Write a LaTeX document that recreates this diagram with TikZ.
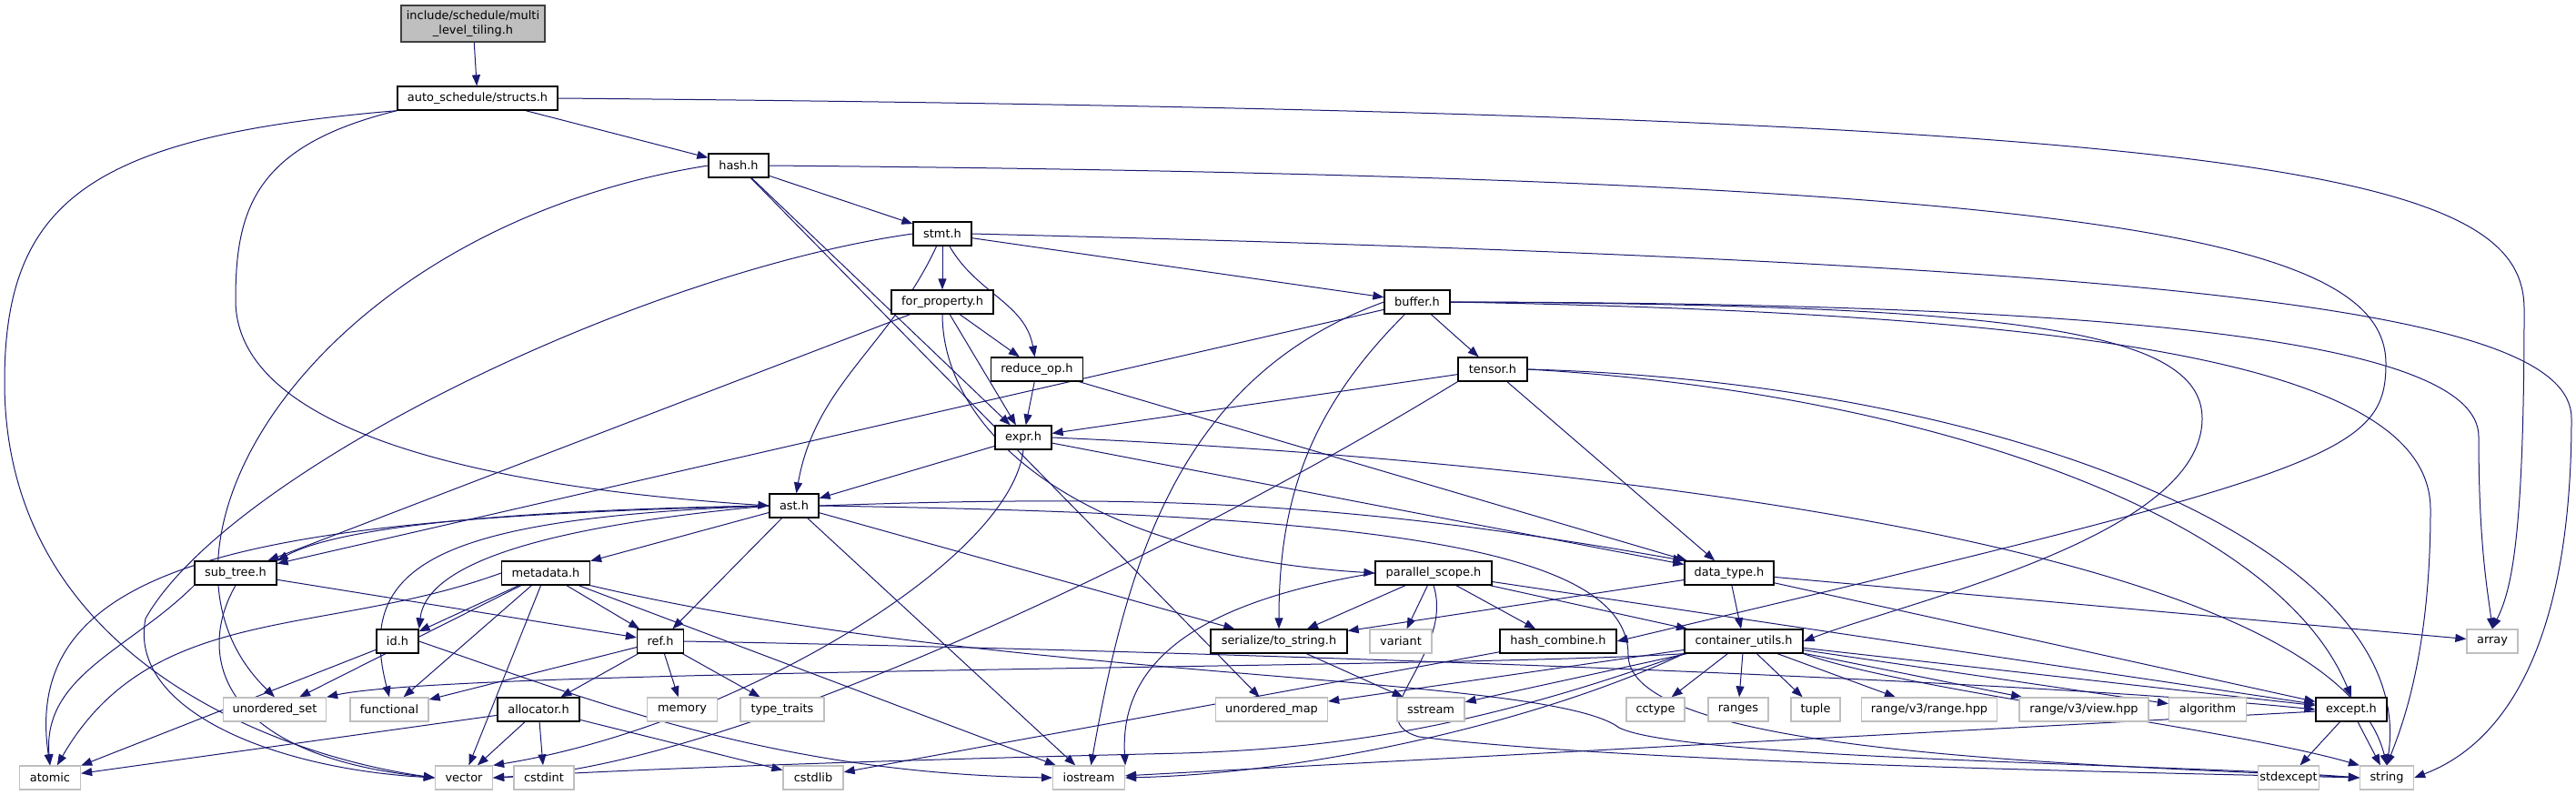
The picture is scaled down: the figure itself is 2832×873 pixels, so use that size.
\documentclass[tikz,border=0pt]{standalone}
\usepackage{fontspec}
\setmainfont{DejaVu Sans}
\usetikzlibrary{arrows.meta, backgrounds}
\definecolor{edgeblue}{RGB}{25, 25, 112}
\definecolor{sysgray}{RGB}{191, 191, 191}
\definecolor{boxdark}{RGB}{64, 64, 64}

\begin{document}
\begin{tikzpicture}[x=1pt, y=1pt,
                hdrbox/.style={draw=black, line width=1.3pt, fill=white,
                    minimum height=26pt, inner xsep=1pt, inner ysep=1pt,
                    font=\fontsize{12.9}{15}\selectfont},
                sysbox/.style={hdrbox, draw=sysgray},
                rootbox/.style={hdrbox, fill=sysgray, draw=boxdark,
                    minimum height=40pt, align=center,
                    font=\fontsize{12.9}{16}\selectfont},
                dep/.style={-{Triangle[length=12pt, width=9pt]}, line width=1pt, edgeblue}
            ]

                \useasboundingbox (0,0) rectangle (2832,-873);

                \node[rootbox, minimum width=158] (main) at (520,-26) {include/schedule/multi\\\_level\_tiling.h};
                \node[hdrbox, minimum width=176] (structs) at (525,-108) {auto\_schedule/structs.h};
                \node[hdrbox, minimum width=66] (hash) at (812,-182) {hash.h};
                \node[hdrbox, minimum width=64] (stmt) at (1036,-257) {stmt.h};
                \node[hdrbox, minimum width=112] (forprop) at (1036,-332) {for\_property.h};
                \node[hdrbox, minimum width=72] (buffer) at (1558,-332) {buffer.h};
                \node[hdrbox, minimum width=101] (reduceop) at (1140,-406) {reduce\_op.h};
                \node[hdrbox, minimum width=76] (tensor) at (1641,-406) {tensor.h};
                \node[hdrbox, minimum width=62] (expr) at (1125,-481) {expr.h};
                \node[hdrbox, minimum width=54] (ast) at (873,-556) {ast.h};

                \node[hdrbox, minimum width=90] (subtree) at (259,-630) {sub\_tree.h};
                \node[hdrbox, minimum width=97] (metadata) at (600,-630) {metadata.h};
                \node[hdrbox, minimum width=128] (parscope) at (1576,-630) {parallel\_scope.h};
                \node[hdrbox, minimum width=98] (datatype) at (1901,-630) {data\_type.h};

                \node[hdrbox, minimum width=46] (id) at (437,-705) {id.h};
                \node[hdrbox, minimum width=51] (ref) at (726,-705) {ref.h};
                \node[hdrbox, minimum width=150] (tostring) at (1406,-705) {serialize/to\_string.h};
                \node[sysbox, minimum width=68] (variant) at (1540,-705) {variant};
                \node[hdrbox, minimum width=128] (hashcomb) at (1713,-705) {hash\_combine.h};
                \node[hdrbox, minimum width=130] (contutils) at (1917,-705) {container\_utils.h};
                \node[sysbox, minimum width=56] (array) at (2740,-705) {array};

                \node[sysbox, minimum width=113] (unorderedset) at (302,-780) {unordered\_set};
                \node[sysbox, minimum width=86] (functional) at (428,-780) {functional};
                \node[hdrbox, minimum width=90] (allocator) at (592,-780) {allocator.h};
                \node[sysbox, minimum width=77] (memory) at (750,-780) {memory};
                \node[sysbox, minimum width=92] (typetraits) at (860,-780) {type\_traits};
                \node[sysbox, minimum width=123] (unorderedmap) at (1398,-780) {unordered\_map};
                \node[sysbox, minimum width=74] (sstream) at (1573,-780) {sstream};
                \node[sysbox, minimum width=64] (cctype) at (1820,-780) {cctype};
                \node[sysbox, minimum width=66] (ranges) at (1911,-780) {ranges};
                \node[sysbox, minimum width=54] (tuple) at (1996,-780) {tuple};
                \node[sysbox, minimum width=149] (rangehpp) at (2121,-780) {range/v3/range.hpp};
                \node[sysbox, minimum width=142] (viewhpp) at (2291,-780) {range/v3/view.hpp};
                \node[sysbox, minimum width=85] (algorithm) at (2427,-780) {algorithm};
                \node[hdrbox, minimum width=78] (except) at (2585,-780) {except.h};

                \node[sysbox, minimum width=67] (atomic) at (55,-855) {atomic};
                \node[sysbox, minimum width=63] (vector) at (510,-855) {vector};
                \node[sysbox, minimum width=66] (cstdint) at (598,-855) {cstdint};
                \node[sysbox, minimum width=66] (cstdlib) at (894,-855) {cstdlib};
                \node[sysbox, minimum width=79] (iostream) at (1197,-855) {iostream};
                \node[sysbox, minimum width=67] (stdexcept) at (2516,-855) {stdexcept};
                \node[sysbox, minimum width=59] (string) at (2624,-855) {string};

                \begin{pgfonlayer}{background}
                \draw[dep] (main) -- (structs);
                \draw[dep] (structs) -- (hash);
                \draw[dep] (structs.east) .. controls (2500,-125) and (2775,-190) .. (2775,-340) .. controls (2775,-600) and (2760,-650) .. (array.north);
                \draw[dep] (structs.south west) .. controls (100,-150) and (5,-220) .. (5,-420) .. controls (5,-720) and (300,-830) .. (vector.west);
                \draw[dep] (structs.south west) .. controls (280,-160) and (259,-230) .. (259,-330) .. controls (259,-450) and (450,-530) .. (ast.west);

                \draw[dep] (hash) -- (stmt);
                \draw[dep] (hash) -- (expr);
                \draw[dep] (hash) -- (unorderedmap);
                \draw[dep] (hash.west) .. controls (350,-250) and (130,-600) .. (unorderedset.north);
                \draw[dep] (hash.east) .. controls (2300,-195) and (2623,-260) .. (2623,-400) .. controls (2623,-500) and (2560,-520) .. (hashcomb.east);

                \draw[dep] (stmt) -- (forprop);
                \draw[dep] (stmt) -- (buffer);
                \draw[dep] (stmt) to[out=-60, in=100] (reduceop);
                \draw[dep] (stmt) to[out=245, in=80] (ast);
                \draw[dep] (stmt.west) .. controls (700,-300) and (250,-520) .. (160,-680) .. controls (140,-780) and (300,-845) .. (vector.west);
                \draw[dep] (stmt.east) .. controls (2400,-290) and (2827,-340) .. (2827,-460) .. controls (2827,-760) and (2720,-830) .. (string.east);

                \draw[dep] (forprop) -- (reduceop);
                \draw[dep] (forprop) -- (expr);
                \draw[dep] (forprop) -- (subtree);
                \draw[dep] (forprop.south) .. controls (1036,-470) and (1180,-610) .. (parscope.west);

                \draw[dep] (reduceop) -- (expr);
                \draw[dep] (reduceop) -- (datatype);

                \draw[dep] (buffer) -- (tensor);
                \draw[dep] (buffer) -- (subtree);
                \draw[dep] (buffer) to[out=225, in=90] (tostring);
                \draw[dep] (buffer.west) to[out=200, in=80] (iostream);
                \draw[dep] (buffer.east) .. controls (2300,-333) and (2725,-370) .. (2725,-480) .. controls (2725,-600) and (2735,-650) .. (array.north);
                \draw[dep] (buffer.east) .. controls (2200,-335) and (2421,-360) .. (2421,-460) .. controls (2421,-590) and (2100,-660) .. (contutils.east);
                \draw[dep] (buffer.east) .. controls (2300,-345) and (2672,-400) .. (2672,-560) .. controls (2672,-720) and (2640,-800) .. (string.north);

                \draw[dep] (tensor) -- (expr);
                \draw[dep] (tensor) -- (datatype);
                \draw[dep] (tensor.south west) .. controls (1300,-605) and (800,-845) .. (vector.east);
                \draw[dep] (tensor.east) .. controls (2100,-430) and (2500,-560) .. (except.north);
                \draw[dep] (tensor.east) .. controls (2200,-420) and (2660,-600) .. (string.north);

                \draw[dep] (expr) -- (ast);
                \draw[dep] (expr) -- (datatype);
                \draw[dep] (expr.south) .. controls (1110,-620) and (800,-800) .. (vector.north east);
                \draw[dep] (expr.east) .. controls (1600,-500) and (2560,-580) .. (string.north);

                \draw[dep] (ast) -- (metadata);
                \draw[dep] (ast) -- (ref);
                \draw[dep] (ast) -- (iostream);
                \draw[dep] (ast) -- (tostring);
                \draw[dep] (ast.east) to[out=2, in=170] (datatype.north west);
                \draw[dep] (ast.east) .. controls (1500,-565) and (1790,-600) .. (1790,-720) .. controls (1790,-830) and (2300,-840) .. (string.west);
                \draw[dep] (ast.west) .. controls (600,-560) and (380,-575) .. (subtree.north east);
                \draw[dep] (ast.west) .. controls (300,-570) and (20,-610) .. (atomic.north);
                \draw[dep] (ast.west) .. controls (640,-575) and (470,-610) .. (id.north east);
                \draw[dep] (ast.west) .. controls (480,-570) and (390,-620) .. (functional.north);

                \draw[dep] (subtree) -- (ref);
                \draw[dep] (subtree.south west) to[out=225, in=95] (atomic.north);
                \draw[dep] (subtree.south) .. controls (215,-720) and (240,-830) .. (vector.west);

                \draw[dep] (metadata) -- (id);
                \draw[dep] (metadata) -- (ref);
                \draw[dep] (metadata) -- (unorderedset);
                \draw[dep] (metadata) -- (functional);
                \draw[dep] (metadata) -- (vector);
                \draw[dep] (metadata) -- (iostream);
                \draw[dep] (metadata.west) to[out=200, in=60] (atomic);
                \draw[dep] (metadata.south east) .. controls (1100,-750) and (1700,-740) .. (1780,-800) .. controls (1850,-835) and (2400,-840) .. (string.west);

                \draw[dep] (parscope) -- (tostring);
                \draw[dep] (parscope) -- (variant);
                \draw[dep] (parscope) -- (hashcomb);
                \draw[dep] (parscope) -- (contutils);
                \draw[dep] (parscope) -- (except);
                \draw[dep] (parscope.west) .. controls (1330,-660) and (1230,-720) .. (iostream.north east);
                \draw[dep] (parscope.south) .. controls (1600,-720) and (1490,-790) .. (1560,-810) .. controls (1800,-840) and (2400,-850) .. (string.west);

                \draw[dep] (datatype) -- (contutils);
                \draw[dep] (datatype) -- (tostring);
                \draw[dep] (datatype) -- (array);
                \draw[dep] (datatype) -- (except);

                \draw[dep] (id) -- (atomic);
                \draw[dep] (id.east) .. controls (650,-770) and (850,-850) .. (iostream.west);

                \draw[dep] (ref) -- (allocator);
                \draw[dep] (ref) -- (memory);
                \draw[dep] (ref) -- (typetraits);
                \draw[dep] (ref) -- (functional);
                \draw[dep] (ref.east) .. controls (1300,-715) and (2200,-745) .. (except.west);

                \draw[dep] (tostring) -- (sstream);
                \draw[dep] (hashcomb) -- (cstdlib);

                \draw[dep] (contutils) -- (cctype);
                \draw[dep] (contutils) -- (ranges);
                \draw[dep] (contutils) -- (tuple);
                \draw[dep] (contutils) -- (rangehpp);
                \draw[dep] (contutils) -- (viewhpp);
                \draw[dep] (contutils) -- (algorithm);
                \draw[dep] (contutils) -- (except);
                \draw[dep] (contutils) -- (unorderedmap);
                \draw[dep] (contutils) -- (sstream);
                \draw[dep] (contutils.south west) .. controls (1600,-735) and (500,-735) .. (unorderedset.north east);
                \draw[dep] (contutils.south west) .. controls (1650,-790) and (1500,-822) .. (1300,-828) .. controls (1000,-835) and (700,-845) .. (vector.east);
                \draw[dep] (contutils.south west) .. controls (1700,-790) and (1450,-850) .. (iostream.east);
                \draw[dep] (contutils.south east) .. controls (2100,-760) and (2450,-800) .. (string.north west);

                \draw[dep] (allocator) -- (atomic);
                \draw[dep] (allocator) -- (vector);
                \draw[dep] (allocator) -- (cstdint);
                \draw[dep] (allocator) -- (cstdlib);

                \draw[dep] (except) -- (stdexcept);
                \draw[dep] (except) -- (string);
                \draw[dep] (except) -- (iostream);
                \end{pgfonlayer}

            \end{tikzpicture}
\end{document}
